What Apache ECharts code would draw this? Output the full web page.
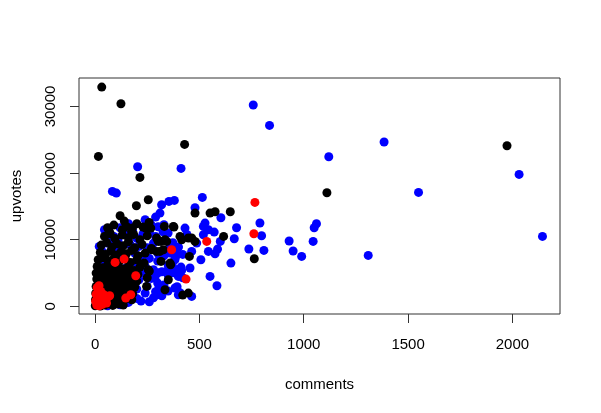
<!DOCTYPE html>
<html>
<head>
<meta charset="utf-8">
<script src="https://cdn.jsdelivr.net/npm/echarts@6/dist/echarts.min.js"></script>
<style>html,body{margin:0;padding:0;background:#fff}#c{width:601px;height:413px}</style>
</head>
<body>
<div id="c"></div>
<script>
const xTicks = [0, 500, 1000, 1500, 2000];
const yTicks = [0, 10000, 20000, 30000];

const blueSeries = [
 [758,30210],[836,27150],[1120,22455],[1385,24660],[1550,17100],[2032,19800],[2144,10500],
 [1309,7650],[1061,12400],[1050,11800],[1045,9750],[990,7500],[790,12510],[798,10600],[809,8400],
 [930,9810],[949,8310],[737,8610],[678,11800],[667,10150],[651,6500],[603,13300],[600,9750],
 [587,8600],[575,7900],[584,3100],[551,4500],[514,16350],[479,14800],[527,12500],[519,12000],
 [543,11500],[571,11150],[519,10750],[543,8250],[507,7000],[431,11750],[487,9500],[463,8250],
 [455,5760],[412,5900],[415,5400],[399,4500],[383,2760],[399,1750],[463,1500],[306,2760],
 [359,8000],[383,7250],[319,15250],[354,15750],[380,15900],[311,14000],[204,20950],[412,20700],
 [83,17250],[102,17000],[330,12250],
 [302,11950],[326,11200],[350,11000],[373,9550],[393,7750],[383,7000],[369,6250],[350,5500],
 [302,5050],[287,4300],[321,2800],[297,1750],[373,5050],[407,5500],[393,2950],[407,2050],
 [20,9000],[35,8200],[55,9500],[40,7000],[70,6200],[25,5800],[90,10500],[110,9800],[150,10800],
 [180,11300],[200,10200],[230,10900],[260,11100],[290,10500],[170,9200],[210,9000],[250,8800],
 [280,9500],[300,8000],[190,8000],[220,7500],[260,7200],[300,6800],[330,7600],[200,6500],
 [240,6000],[280,5500],[320,5200],[350,4700],[230,5000],[270,4200],[300,3500],[250,3000],
 [290,2200],[330,3200],[210,4000],[240,2000],[280,1300],[320,1600],[350,2300],[100,500],
 [120,250],[140,400],[160,600],[90,300],[60,100],[200,1200],[220,800],[260,700],[150,5800],
 [130,7600],[100,8600],[75,9800],[180,4500],[160,3200],[200,2600],[60,4500],[80,3200],
 [45,11500],[120,11800],[270,12200],[240,13000],[290,13400],[160,12400],[440,10800],
 [360,9200],[400,8900],[420,7800],[350,6200],[380,5600],[420,4300]
];

const blackSeries = [
 [32,32900],[124,30400],[429,24300],[16,22500],[1974,24100],[1111,17055],[215,19350],
 [255,16000],[198,15100],[120,13600],[479,14000],[551,14000],[575,14200],[648,14200],
 [616,10500],[763,7150],[452,7500],[447,2000],[351,4000],[335,2500],[316,6750],[362,6250],
 [295,10260],[316,9750],[343,9750],[407,10500],[415,10000],[447,10260],[463,10260],[479,9750],
 [295,8250],[327,8500],[259,12600],[267,11750],[243,11750],[378,11900],[332,12000],[375,12000],
 [67,11250],[131,11500],[179,11750],[72,11000],[247,3000],[176,1000],[255,5500],[359,6500],
 [271,8500],[311,8250],[303,9750],[335,10000],
 [60,11800],[90,12200],[150,12000],[175,11200],[200,12400],[230,11900],[140,12800],
 [45,10500],[70,10900],[95,10200],[130,10700],[160,10300],[185,10800],[215,10000],[250,10600],
 [30,9200],[55,9600],[80,8900],[105,9400],[135,9100],[160,9700],[190,8800],[225,9300],[270,8700],
 [25,8100],[50,7800],[75,8300],[100,7700],[125,8200],[150,7900],[175,8400],[205,7600],[240,8000],
 [15,7000],[40,7300],[65,6800],[90,7200],[115,6700],[145,7100],[170,6600],[200,7000],[235,6500],
 [10,6000],[35,5800],[60,6200],[85,5700],[110,6100],[135,5600],[160,6000],[185,5400],[215,5900],[260,5300],
 [5,5000],[30,4800],[55,5200],[80,4600],[105,5000],[130,4500],[155,4900],[180,4400],[205,4800],[250,4300],
 [8,4100],[28,3800],[50,4200],[72,3600],[95,4000],[120,3500],[145,3900],[170,3400],[200,3800],
 [5,3000],[22,2700],[45,3200],[68,2800],[90,3100],[115,2600],[140,3000],[165,2500],[190,2900],
 [3,2000],[18,1700],[38,2200],[60,1800],[82,2100],[108,1600],[130,2000],[155,1500],[180,1900],[420,1700],
 [2,1000],[15,800],[32,1200],[52,700],[75,1100],[98,600],[120,900],[145,1100],
 [1,100],[10,300],[25,50],[45,200],[65,400],[85,150],[110,350],[135,200]
];

const redSeries = [
 [766,15600],[761,10900],[535,9750],[367,8500],[436,4100],[96,6600],[139,7100],[195,4600],
 [19,3100],[171,1750],[147,1250],[27,2250],[11,1500],[35,1750],[43,1000],[19,250],[3,750],
 [51,1500],[10,2800],[20,2400],[30,2000],[15,1500],[40,1800],[25,1200],[5,800],[10,400],
 [30,600],[50,1000],[60,1400],[8,200],[20,100],[35,300],[55,500],[70,1600],[5,1800]
];

const FONT = '"Liberation Sans", Arial, Helvetica, sans-serif';
const chart = echarts.init(document.getElementById('c'), null, {renderer: 'canvas'});
const mk = (data, color) => ({
  type: 'scatter', data: data, symbol: 'circle', symbolSize: 9,
  itemStyle: {color: color, opacity: 1}, emphasis: {disabled: true}, animation: false
});
const plain = v => String(v);
chart.setOption({
  animation: false,
  backgroundColor: '#ffffff',
  grid: {left: 79, right: 41, top: 78, bottom: 99, show: true, borderColor: '#333', borderWidth: 1, backgroundColor: 'transparent'},
  xAxis: {
    type: 'value', min: -77, max: 2228,
    name: 'comments', nameLocation: 'middle', nameGap: 63,
    nameTextStyle: {fontFamily: FONT, fontSize: 15, color: '#000'},
    axisLine: {show: false, onZero: false},
    axisTick: {show: true, length: 9, inside: false, customValues: xTicks, lineStyle: {color: '#333'}},
    axisLabel: {customValues: xTicks, formatter: plain, margin: 23, fontFamily: FONT, fontSize: 15, color: '#000'},
    splitLine: {show: false}
  },
  yAxis: {
    type: 'value', min: -1140, max: 34260,
    name: 'upvotes', nameLocation: 'middle', nameGap: 55, nameRotate: 90,
    nameTextStyle: {fontFamily: FONT, fontSize: 15, color: '#000'},
    axisLine: {show: false, onZero: false},
    axisTick: {show: true, length: 9, inside: false, customValues: yTicks, lineStyle: {color: '#333'}},
    axisLabel: {customValues: yTicks, formatter: plain, rotate: 90, margin: 21, fontFamily: FONT, fontSize: 15, color: '#000'},
    splitLine: {show: false}
  },
  series: [mk(blueSeries, '#0000ff'), mk(blackSeries, '#000000'), mk(redSeries, '#ff0000')]
});
</script>
</body>
</html>
